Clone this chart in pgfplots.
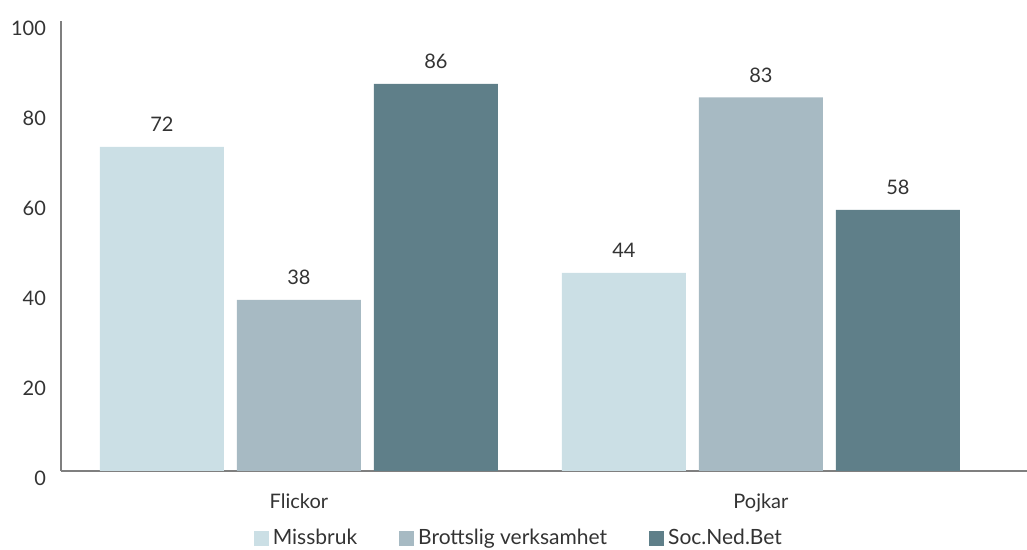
\documentclass[border=0pt]{standalone}
\usepackage{pgfplots}
\pgfplotsset{compat=1.18}
\usepackage{fontspec}
\setmainfont{Lato}
\definecolor{c1}{HTML}{CBDFE5}
\definecolor{c2}{HTML}{A7BAC3}
\definecolor{c3}{HTML}{5F7F89}
\definecolor{axgray}{HTML}{7F7F7F}
\definecolor{txt}{HTML}{333333}
\begin{document}
\begin{tikzpicture}[x=1pt,y=1pt]
\path[use as bounding box] (-30.5,-39.5) rectangle (483,235.5);
\begin{axis}[
  at={(0,0)}, anchor=south west,
  scale only axis,
  width=483pt, height=225pt,
  xmin=-0.515, xmax=1.576,
  ymin=0, ymax=100,
  axis x line=bottom, axis y line=left,
  axis line style={axgray, line width=0.8pt, -},
  xtick={0,1}, xticklabels={Flickor,Pojkar},
  ytick={0,20,40,60,80,100},
  major tick length=0pt,
  tick style={draw=none},
  ticklabel style={font=\fontsize{10}{12}\selectfont, text=txt},
  yticklabel style={xshift=-4pt, yshift=-3.5pt},
  xticklabel style={yshift=-8pt},
  /pgf/number format/assume math mode=true,
  ybar, bar width=62pt,
  every axis plot/.append style={draw=none},
  nodes near coords,
  nodes near coords style={font=\fontsize{10}{12}\selectfont, text=txt, yshift=4pt},
  legend style={at={(0.475,-0.149)}, anchor=center, draw=none, fill=none,
    legend columns=-1, font=\fontsize{10.5}{12}\selectfont, text=txt,
    /tikz/every even column/.append style={column sep=19pt}},
  legend image code/.code={\fill[#1] (0pt,-3.75pt) rectangle (7.5pt,3.75pt);},
  clip=false,
]
\addplot[fill=c1, bar shift=-68.5pt] coordinates {(0,72) (1,44)};
\addplot[fill=c2, bar shift=0pt] coordinates {(0,38) (1,83)};
\addplot[fill=c3, bar shift=68.5pt] coordinates {(0,86) (1,58)};
\legend{Missbruk, Brottslig verksamhet, Soc.Ned.Bet}
\end{axis}
\end{tikzpicture}
\end{document}
